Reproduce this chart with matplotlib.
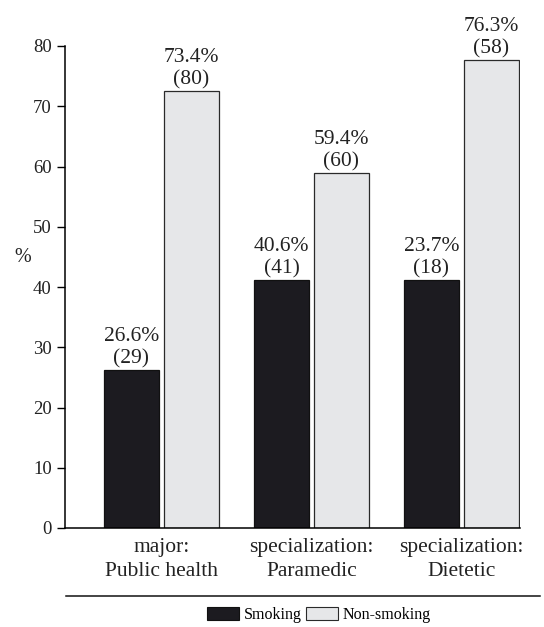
import matplotlib
matplotlib.use("Agg")
import matplotlib.pyplot as plt
import numpy as np
from matplotlib.patches import Patch
from matplotlib.lines import Line2D

categories = ["major:\nPublic health", "specialization:\nParamedic", "specialization:\nDietetic"]
smoking = [26.2, 41.2, 41.2]
non_smoking = [72.6, 59.0, 77.7]
smoking_labels = ["26.6%\n(29)", "40.6%\n(41)", "23.7%\n(18)"]
non_smoking_labels = ["73.4%\n(80)", "59.4%\n(60)", "76.3%\n(58)"]
yticks = [0, 10, 20, 30, 40, 50, 60, 70, 80]

plt.rcParams['font.family'] = ['Liberation Serif', 'DejaVu Serif']

W, H = 544, 627
fig = plt.figure(figsize=(W / 100, H / 100), dpi=100)
ax = fig.add_axes([65 / W, 1 - 528 / H, (520 - 65) / W, (528 - 46) / H])

x = np.arange(len(categories))
bw = 55 / 150
off = 30 / 150
dark = "#1c1b20"
light = "#e6e7e9"
b1 = ax.bar(x - off, smoking, width=bw, color=dark, edgecolor="#111111", linewidth=0.9)
b2 = ax.bar(x + off, non_smoking, width=bw, color=light, edgecolor="#2a2a2a", linewidth=0.9)

for rect, lab in zip(b1, smoking_labels):
    ax.annotate(lab, (rect.get_x() + rect.get_width() / 2, rect.get_height()),
                xytext=(0, 1), textcoords="offset points", ha="center", va="bottom",
                fontsize=15.5, linespacing=1.22, color="#222222")
for rect, lab in zip(b2, non_smoking_labels):
    ax.annotate(lab, (rect.get_x() + rect.get_width() / 2, rect.get_height()),
                xytext=(0, 1), textcoords="offset points", ha="center", va="bottom",
                fontsize=15.5, linespacing=1.22, color="#222222")

ax.set_xlim((65 - 161.5) / 150, (520 - 161.5) / 150)
ax.set_ylim(0, 80)
ax.set_yticks(yticks)
ax.set_xticks(x)
ax.set_xticklabels(categories, fontsize=15.5, linespacing=1.4, color="#222222")
ax.tick_params(axis="x", length=0, pad=7)
ax.tick_params(axis="y", direction="out", length=6, width=1, pad=3.5, labelsize=13.5,
               labelcolor="#222222")
for s in ["top", "right"]:
    ax.spines[s].set_visible(False)
ax.spines["left"].set_linewidth(1.1)
ax.spines["bottom"].set_linewidth(1.1)

fig.text(23 / W, 1 - 257 / H, "%", fontsize=14.5, ha="center", va="center", color="#222222")

fig.add_artist(Line2D([66 / W, 540 / W], [1 - 596 / H, 1 - 596 / H],
                      transform=fig.transFigure, color="#111111", linewidth=1.1))

handles = [Patch(facecolor=dark, edgecolor="#111111", linewidth=0.8, label="Smoking"),
           Patch(facecolor=light, edgecolor="#2a2a2a", linewidth=0.8, label="Non-smoking")]
fig.legend(handles=handles, loc="center", bbox_to_anchor=(319 / W, 1 - 615 / H), ncol=2,
           frameon=False, fontsize=11.5, handlelength=2.0, handleheight=0.8,
           handletextpad=0.3, columnspacing=0.3, borderpad=0, borderaxespad=0)

fig.savefig("out.png", dpi=100)
